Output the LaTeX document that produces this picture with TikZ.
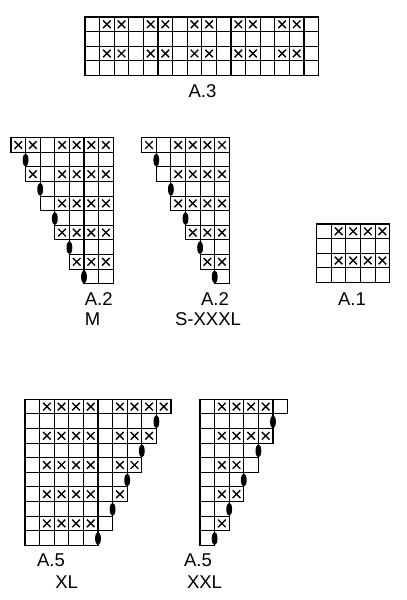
\documentclass[tikz,border=0pt]{standalone}
\usepackage{fontspec}
\setmainfont{Liberation Sans}
\newcommand\cs{14.6}
% #1 x0, #2 y0, #3 row index, #4 start column, #5 pattern list
\newcommand\krow[5]{%
  \foreach \v [count=\i from #4] in {#5} {
    \draw[cellbox] ({#1+\i*\cs},{#2+#3*\cs}) rectangle ++(\cs,\cs);
    \ifnum\v=1
      \draw[xmark] ({#1+\i*\cs+3.5},{#2+#3*\cs+3.5}) -- ++(7.6,7.6);
      \draw[xmark] ({#1+\i*\cs+3.5},{#2+#3*\cs+11.1}) -- ++(7.6,-7.6);
    \fi
  }}
% #1 x0, #2 y0, #3 row, #4 column boundary
\newcommand\koval{}
\renewcommand\koval[4]{%
  \fill ({#1+#4*\cs},{#2+#3*\cs+\cs/2+0.5}) ellipse [x radius=2.9, y radius=6.6];}
\begin{document}
\begin{tikzpicture}[x=1pt,y=-1pt,
  cellbox/.style={draw=black,line width=1.05pt},
  xmark/.style={draw=black,line width=1.4pt},
  lbl/.style={inner sep=0pt,font=\fontsize{18.5}{21}\selectfont}]
\useasboundingbox (0,0) rectangle (407,600);
\fill[white] (0,0) rectangle (407,600);
% ---------- A.3 ----------
\foreach \r in {0,2} {\krow{85}{17}{\r}{0}{0,1,1,0,1,1,0,1,1,0,1,1,0,1,1,0}}
\foreach \r in {1,3} {\krow{85}{17}{\r}{0}{0,0,0,0,0,0,0,0,0,0,0,0,0,0,0,0}}
\node[lbl] (la3) at (202.5,91) {A.3};
% ---------- A.1 ----------
\foreach \r in {0,2} {\krow{316.7}{224}{\r}{0}{0,1,1,1,1}}
\foreach \r in {1,3} {\krow{316.7}{224}{\r}{0}{0,0,0,0,0}}
\node[lbl] (la1) at (352,299) {A.1};
% ---------- A.2 M ----------
\krow{11}{137.7}{0}{0}{1,1,0,1,1,1,1}
\krow{11}{137.7}{1}{1}{0,0,0,0,0,0}
\krow{11}{137.7}{2}{1}{1,0,1,1,1,1}
\krow{11}{137.7}{3}{2}{0,0,0,0,0}
\krow{11}{137.7}{4}{2}{0,1,1,1,1}
\krow{11}{137.7}{5}{3}{0,0,0,0}
\krow{11}{137.7}{6}{3}{1,1,1,1}
\krow{11}{137.7}{7}{4}{0,0,0}
\krow{11}{137.7}{8}{4}{1,1,1}
\krow{11}{137.7}{9}{5}{0,0}
\koval{11}{137.7}{1}{1}
\koval{11}{137.7}{3}{2}
\koval{11}{137.7}{5}{3}
\koval{11}{137.7}{7}{4}
\koval{11}{137.7}{9}{5}
\node[lbl] (la2m) at (98.7,299) {A.2};
\node[lbl] (lm) at (92.7,318.7) {M};
% ---------- A.2 S-XXXL ----------
\krow{141.7}{137.7}{0}{0}{1,0,1,1,1,1}
\krow{141.7}{137.7}{1}{1}{0,0,0,0,0}
\krow{141.7}{137.7}{2}{1}{0,1,1,1,1}
\krow{141.7}{137.7}{3}{2}{0,0,0,0}
\krow{141.7}{137.7}{4}{2}{1,1,1,1}
\krow{141.7}{137.7}{5}{3}{0,0,0}
\krow{141.7}{137.7}{6}{3}{1,1,1}
\krow{141.7}{137.7}{7}{4}{0,0}
\krow{141.7}{137.7}{8}{4}{1,1}
\krow{141.7}{137.7}{9}{5}{0}
\koval{141.7}{137.7}{1}{1}
\koval{141.7}{137.7}{3}{2}
\koval{141.7}{137.7}{5}{3}
\koval{141.7}{137.7}{7}{4}
\koval{141.7}{137.7}{9}{5}
\node[lbl] (la2s) at (215,299) {A.2};
\node[lbl] (ls) at (208,318.7) {S-XXXL};
% ---------- A.5 XL ----------
\krow{25}{399.3}{0}{0}{0,1,1,1,1,0,1,1,1,1}
\krow{25}{399.3}{1}{0}{0,0,0,0,0,0,0,0,0}
\krow{25}{399.3}{2}{0}{0,1,1,1,1,0,1,1,1}
\krow{25}{399.3}{3}{0}{0,0,0,0,0,0,0,0}
\krow{25}{399.3}{4}{0}{0,1,1,1,1,0,1,1}
\krow{25}{399.3}{5}{0}{0,0,0,0,0,0,0}
\krow{25}{399.3}{6}{0}{0,1,1,1,1,0,1}
\krow{25}{399.3}{7}{0}{0,0,0,0,0,0}
\krow{25}{399.3}{8}{0}{0,1,1,1,1,0}
\krow{25}{399.3}{9}{0}{0,0,0,0,0}
\koval{25}{399.3}{1}{9}
\koval{25}{399.3}{3}{8}
\koval{25}{399.3}{5}{7}
\koval{25}{399.3}{7}{6}
\koval{25}{399.3}{9}{5}
\node[lbl] (la5xl) at (51,560.5) {A.5};
\node[lbl] (lxl) at (66.7,581.7) {XL};
% ---------- A.5 XXL ----------
\krow{200}{399.3}{0}{0}{0,1,1,1,1,0}
\krow{200}{399.3}{1}{0}{0,0,0,0,0}
\krow{200}{399.3}{2}{0}{0,1,1,1,1}
\krow{200}{399.3}{3}{0}{0,0,0,0}
\krow{200}{399.3}{4}{0}{0,1,1,0}
\krow{200}{399.3}{5}{0}{0,0,0}
\krow{200}{399.3}{6}{0}{0,1,1}
\krow{200}{399.3}{7}{0}{0,0}
\krow{200}{399.3}{8}{0}{0,1}
\krow{200}{399.3}{9}{0}{0}
\koval{200}{399.3}{1}{5}
\koval{200}{399.3}{3}{4}
\koval{200}{399.3}{5}{3}
\koval{200}{399.3}{7}{2}
\koval{200}{399.3}{9}{1}
\node[lbl] (la5xxl) at (198,560.5) {A.5};
\node[lbl] (lxxl) at (204.5,581.7) {XXL};
\end{tikzpicture}
\end{document}
